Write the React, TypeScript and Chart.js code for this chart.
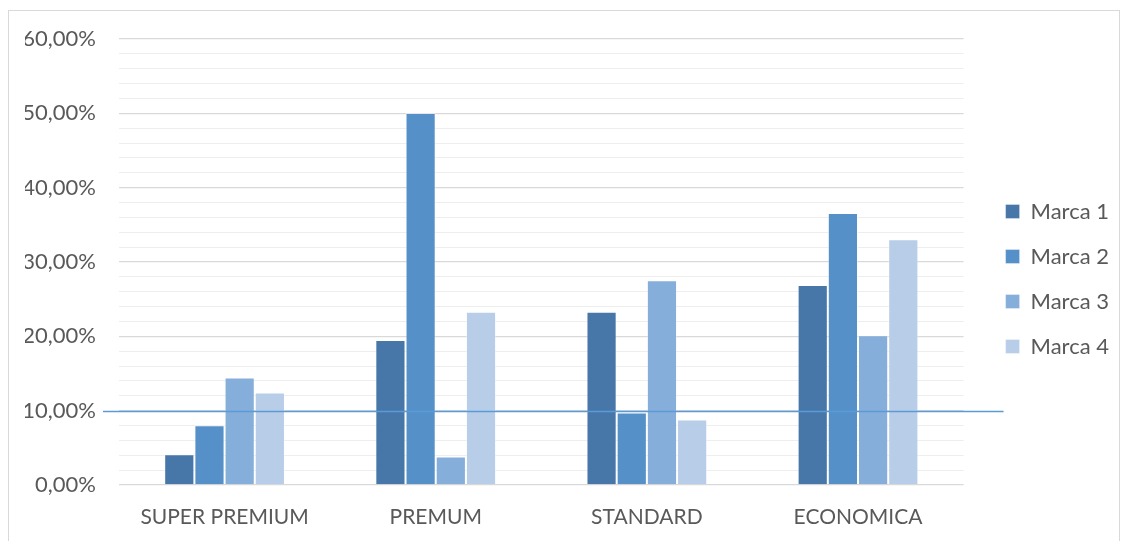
import React, { useEffect, useRef } from "react";
import { Chart, registerables } from "chart.js";

Chart.register(...registerables);

const categories = ["SUPER PREMIUM", "PREMUM", "STANDARD", "ECONOMICA"];
const seriesNames = ["Marca 1", "Marca 2", "Marca 3", "Marca 4"];
const marca1 = [4.13, 19.5, 23.3, 26.9];
const marca2 = [8.05, 50.05, 9.75, 36.6];
const marca3 = [14.45, 3.85, 27.55, 20.15];
const marca4 = [12.45, 23.3, 8.8, 33.05];
const seriesColors = ["#4677a8", "#5591c8", "#85aedb", "#b8cde8"];
const referenceValue = 10;
const yMax = 60;
const yStep = 2;

const FONT = "Lato, 'Liberation Sans', sans-serif";

const refLinePlugin = {
  id: "refLine",
  afterDatasetsDraw(chart: any) {
    const { ctx, scales, chartArea } = chart;
    const y = Math.round(scales.y.getPixelForValue(referenceValue)) + 0.5;
    ctx.save();
    ctx.strokeStyle = "#5b9bd5";
    ctx.lineWidth = 1.5;
    ctx.beginPath();
    ctx.moveTo(chartArea.left - 16, y);
    ctx.lineTo(chartArea.right + 40, y);
    ctx.stroke();
    ctx.restore();
  },
};

export default function App() {
  const ref = useRef<HTMLCanvasElement>(null);
  useEffect(() => {
    if (!ref.current) return;
    const values = [marca1, marca2, marca3, marca4];
    const chart = new Chart(ref.current, {
      type: "bar",
      data: {
        labels: categories,
        datasets: seriesNames.map((name, i) => ({
          label: name,
          data: values[i],
          backgroundColor: seriesColors[i],
          borderColor: "rgba(255,255,255,0.35)",
          borderWidth: 1,
          barPercentage: 1,
          categoryPercentage: 0.572,
        })),
      },
      options: {
        responsive: false,
        animation: false,
        layout: { padding: { top: 18, bottom: 13, left: 16, right: 0 } },
        plugins: {
          tooltip: { enabled: false },
          legend: {
            position: "right",
            labels: {
              boxWidth: 14,
              boxHeight: 14,
              padding: 23,
              color: "#595959",
              font: { family: FONT, size: 22 },
            },
          },
        },
        scales: {
          x: {
            grid: { display: false, drawTicks: false },
            border: { display: false },
            ticks: {
              color: "#595959",
              padding: 20,
              font: { family: FONT, size: 21 },
            },
            afterFit: (s: any) => {
              s.height = 44;
            },
          },
          y: {
            min: 0,
            max: yMax,
            border: { display: false },
            grid: {
              drawTicks: false,
              color: (c: any) =>
                Math.round(c.tick.value) % 10 === 0 ? "#d9d9d9" : "#eeeeee",
              lineWidth: (c: any) => (Math.round(c.tick.value) % 10 === 0 ? 1.3 : 1),
            },
            ticks: {
              stepSize: yStep,
              autoSkip: false,
              padding: 23,
              color: "#595959",
              font: { family: FONT, size: 22 },
              callback: (v: any) =>
                Math.round(v) % 10 === 0 ? Number(v).toFixed(2).replace(".", ",") + "%" : "",
            },
            afterFit: (s: any) => {
              s.width = 94;
              s.paddingTop = 28;
              s.paddingBottom = 13;
            },
          },
          gap: {
            position: "right",
            display: true,
            grid: { display: false, drawTicks: false },
            border: { display: false },
            ticks: { display: false },
            afterFit: (s: any) => {
              s.width = 19;
            },
          } as any,
        },
      },
      plugins: [refLinePlugin],
    });
    return () => chart.destroy();
  }, []);
  return (
    <div
      style={{
        width: 1110,
        height: 531,
        marginTop: 2,
        border: "1px solid #d9d9d9",
        background: "#fff",
      }}
    >
      <canvas ref={ref} width={1110} height={531} style={{ display: "block" }} />
    </div>
  );
}
